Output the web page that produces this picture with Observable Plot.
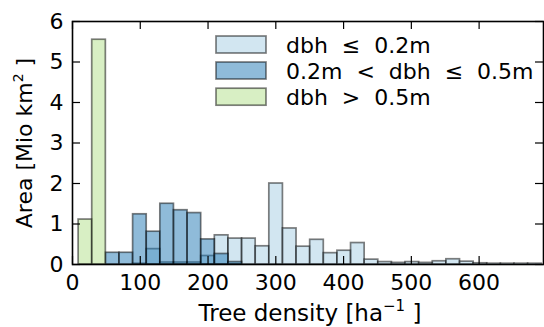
<!DOCTYPE html>
<html><head><meta charset="utf-8">
<script src="https://cdn.jsdelivr.net/npm/d3@7"></script>
<script src="https://cdn.jsdelivr.net/npm/@observablehq/plot@0.6"></script>
<style>body{margin:0;background:#fff;} svg{display:block;}</style>
</head><body><div id="chart"></div>
<script>
// Histogram bins (tree density, ha^-1): left edges, common width
const binLeft = [9, 29.1, 49.2, 69.3, 89.4, 109.5, 129.6, 149.7, 169.8, 189.9,
  210.0, 230.1, 250.2, 270.3, 290.4, 310.5, 330.6, 350.7, 370.8, 390.9,
  411.0, 431.1, 451.2, 471.3, 491.4, 511.5, 531.6, 551.7, 571.8, 591.9,
  612.0, 632.1, 652.2, 672.3];
const binWidth = 20.1;

// Area (Mio km^2) per bin
const smallDbh = [0, 0, 0, 0, 0.02, 0.38, 0.05, 0.05, 0.05, 0.21,
  0.72, 0.64, 0.64, 0.45, 2.0, 0.89, 0.44, 0.61, 0.28, 0.34,
  0.53, 0.12, 0.06, 0.04, 0.06, 0.04, 0.08, 0.13, 0.07, 0.03,
  0.02, 0.02, 0.02, 0.02];
const midDbh = [0, 0, 0.29, 0.29, 1.24, 0.81, 1.50, 1.34, 1.27, 0.62,
  0.26, 0.06, 0, 0, 0, 0, 0, 0, 0, 0,
  0, 0, 0, 0, 0, 0, 0, 0, 0, 0,
  0, 0, 0, 0];
const largeDbh = [1.11, 5.55, 0, 0, 0, 0, 0, 0, 0, 0,
  0, 0, 0, 0, 0, 0, 0, 0, 0, 0,
  0, 0, 0, 0, 0, 0, 0, 0, 0, 0,
  0, 0, 0, 0];

const seriesNames = ["dbh ≤ 0.2m", "0.2m < dbh ≤ 0.5m", "dbh > 0.5m"];
const legendLabels = ["dbh\u00a0 ≤\u00a0 0.2m", "0.2m\u00a0 <\u00a0 dbh\u00a0 ≤\u00a0 0.5m", "dbh\u00a0 >\u00a0 0.5m"];
const seriesColors = ["#a6cee3", "#1f78b4", "#b2df8a"];
const xTicks = [0, 100, 200, 300, 400, 500, 600];
const yTicks = [0, 1, 2, 3, 4, 5, 6];
const xDomain = [0, 695];
const yDomain = [0, 6];

const W = 544, H = 327;
const mL = 72, mR = 1, mT = 21, mB = 63;
const plotW = W - mL - mR, plotH = H - mT - mB;
const tickLen = 8;

function rows(values, name) {
  return binLeft.map((x, i) => ({x1: x, x2: x + binWidth, y: values[i], series: name}))
    .filter(d => d.y > 0);
}
const barStyle = {x1: "x1", x2: "x2", y1: 0, y2: "y", fill: "series",
  fillOpacity: 0.5, stroke: "black", strokeOpacity: 0.5, strokeWidth: 1.7};

const plot = Plot.plot({
  width: W, height: H,
  marginLeft: mL, marginRight: mR, marginTop: mT, marginBottom: mB,
  style: {fontFamily: "DejaVu Sans", background: "white", color: "black"},
  x: {domain: xDomain},
  y: {domain: yDomain},
  color: {domain: seriesNames, range: seriesColors},
  marks: [
    Plot.rectY(rows(smallDbh, seriesNames[0]), barStyle),
    Plot.rectY(rows(midDbh, seriesNames[1]), barStyle),
    Plot.rectY(rows(largeDbh, seriesNames[2]), barStyle),
    Plot.tickX(xTicks, {x: d => d, insetTop: plotH - tickLen, stroke: "black", strokeWidth: 1.2}),
    Plot.tickX(xTicks, {x: d => d, insetBottom: plotH - tickLen, stroke: "black", strokeWidth: 1.2}),
    Plot.tickY(yTicks, {y: d => d, insetRight: plotW - tickLen, stroke: "black", strokeWidth: 1.2}),
    Plot.tickY(yTicks, {y: d => d, insetLeft: plotW - tickLen, stroke: "black", strokeWidth: 1.2}),
    Plot.frame({stroke: "black", strokeWidth: 1.6}),
    Plot.axisX(xTicks, {tickSize: 0, tickPadding: 10, fontSize: 22, label: null}),
    Plot.axisY(yTicks, {tickSize: 0, tickPadding: 9, fontSize: 22, label: null})
  ]
});
document.getElementById("chart").appendChild(plot);

const svg = d3.select(plot);
// Axis labels
const xl = svg.append("text").attr("x", 310).attr("y", 321)
  .attr("text-anchor", "middle").attr("font-size", 23).attr("font-family", "DejaVu Sans").attr("fill", "black");
xl.append("tspan").text("Tree density [ha");
xl.append("tspan").text("−1").attr("font-size", 15).attr("dy", -10);
xl.append("tspan").text(" ]").attr("dy", 10);

const yl = svg.append("text").attr("transform", "translate(32,143) rotate(-90)")
  .attr("text-anchor", "middle").attr("font-size", 22).attr("font-family", "DejaVu Sans").attr("fill", "black");
yl.append("tspan").text("Area [Mio km");
yl.append("tspan").text("2").attr("font-size", 14).attr("dy", -9);
yl.append("tspan").text(" ]").attr("dy", 9);

// Legend
const lg = svg.append("g").attr("font-family", "DejaVu Sans").attr("font-size", 22).attr("text-anchor", "start");
const rowY = [44.5, 70.5, 96.7];
seriesNames.forEach((name, i) => {
  lg.append("rect").attr("x", 216).attr("y", rowY[i] - 8.5).attr("width", 50).attr("height", 17)
    .attr("fill", seriesColors[i]).attr("fill-opacity", 0.5)
    .attr("stroke", "black").attr("stroke-opacity", 0.5).attr("stroke-width", 1.7);
  lg.append("text").attr("x", 286).attr("y", rowY[i] + 8).attr("fill", "black")
    .attr("text-anchor", "start").text(legendLabels[i]);
});
</script>
</body></html>
